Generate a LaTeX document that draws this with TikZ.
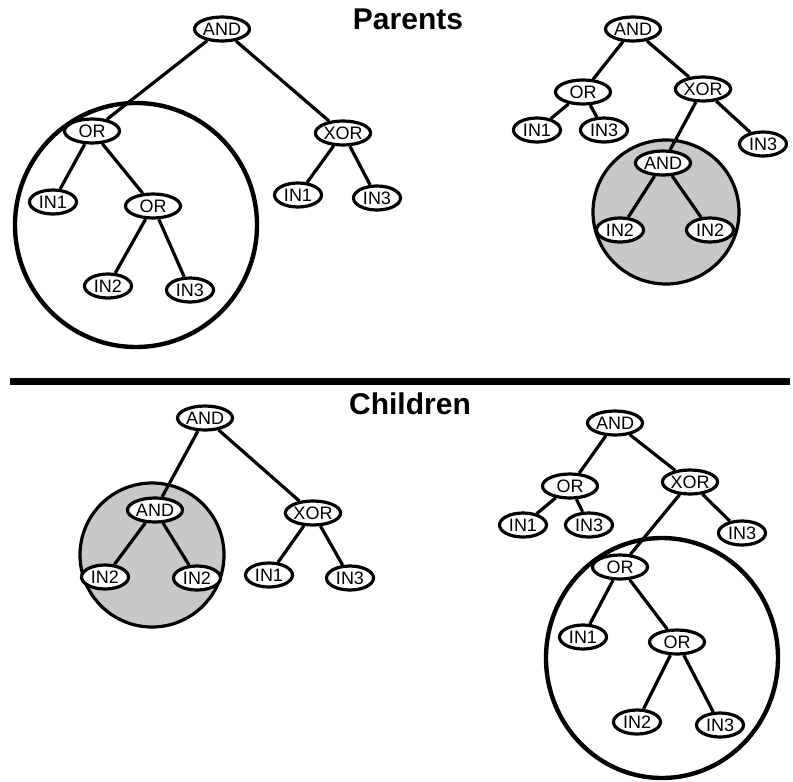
\documentclass[tikz,border=0pt]{standalone}
\usepackage{fontspec}
\setmainfont{Liberation Sans}
\usetikzlibrary{shapes.geometric}
\definecolor{gateline}{HTML}{000000}
\definecolor{subgray}{HTML}{C8C8C8}

\begin{document}
\begin{tikzpicture}[
    x=1pt, y=-1pt,
    gate/.style={ellipse, draw=gateline, fill=white, line width=3.2pt,
      inner sep=0pt, minimum width=55pt, minimum height=24pt,
      font=\fontsize{18}{18}\selectfont},
    leaf/.style={gate, minimum width=47pt},
    edge/.style={draw=gateline, line width=3.2pt},
    cut/.style={draw=gateline, line width=4.4pt},
    swap/.style={draw=gateline, fill=subgray, line width=3.2pt},
    title/.style={font=\fontsize{30}{30}\selectfont\bfseries},
  ]
  \useasboundingbox (0,0) rectangle (793,782);

  % headings and separator
  \node[title] (parents) at (408,19) {Parents};
  \node[title] (children) at (410,404) {Children};
  \fill[gateline] (10,378) rectangle (790,385);

  % selected subtrees
  \draw[cut] (136,225) ellipse [x radius=121, y radius=122];
  \draw[swap] (666,212) ellipse [x radius=73, y radius=72];
  \draw[swap] (152,555) ellipse [x radius=72, y radius=72];
  \draw[cut] (662,658) ellipse [x radius=116, y radius=120];

  % parent 1
  \node[gate] (p1and) at (222,29) {AND};
  \node[gate] (p1or)  at (92,131) {OR};
  \node[gate] (p1xor) at (343,133) {XOR};
  \node[leaf] (p1in1) at (53,202) {IN1};
  \node[gate] (p1orb) at (153,206) {OR};
  \node[leaf] (p1in2) at (108,286) {IN2};
  \node[leaf] (p1in3) at (190,290) {IN3};
  \node[leaf] (p1xa)  at (298,195) {IN1};
  \node[leaf] (p1xb)  at (377,198) {IN3};

  % parent 2
  \node[gate] (p2and) at (633,29) {AND};
  \node[gate] (p2or)  at (583,92) {OR};
  \node[gate] (p2xor) at (703,89) {XOR};
  \node[leaf] (p2in1) at (537,130) {IN1};
  \node[leaf] (p2in3) at (604,130) {IN3};
  \node[leaf] (p2xb)  at (763,144) {IN3};
  \node[gate] (p2sub) at (663,163) {AND};
  \node[leaf] (p2ina) at (620,230) {IN2};
  \node[leaf] (p2inb) at (710,230) {IN2};

  % child 1
  \node[gate] (c1and) at (205,418) {AND};
  \node[gate] (c1sub) at (155,510) {AND};
  \node[gate] (c1xor) at (313,513) {XOR};
  \node[leaf] (c1ina) at (105,577) {IN2};
  \node[leaf] (c1inb) at (197,578) {IN2};
  \node[leaf] (c1xa)  at (269,575) {IN1};
  \node[leaf] (c1xb)  at (350,578) {IN3};

  % child 2
  \node[gate] (c2and) at (615,423) {AND};
  \node[gate] (c2or)  at (570,486) {OR};
  \node[gate] (c2xor) at (690,482) {XOR};
  \node[leaf] (c2in1) at (523,525) {IN1};
  \node[leaf] (c2in3) at (589,525) {IN3};
  \node[leaf] (c2xb)  at (742,533) {IN3};
  \node[gate] (c2sub) at (620,567) {OR};
  \node[leaf] (c2ina) at (583,637) {IN1};
  \node[gate] (c2orb) at (677,642) {OR};
  \node[leaf] (c2in2) at (637,722) {IN2};
  \node[leaf] (c2inc) at (720,725) {IN3};

  % branches
  \foreach \a/\b in {p1and/p1or, p1and/p1xor, p1or/p1in1, p1or/p1orb,
      p1orb/p1in2, p1orb/p1in3, p1xor/p1xa, p1xor/p1xb,
      p2and/p2or, p2and/p2xor, p2or/p2in1, p2or/p2in3, p2xor/p2xb,
      p2xor/p2sub, p2sub/p2ina, p2sub/p2inb,
      c1and/c1sub, c1and/c1xor, c1sub/c1ina, c1sub/c1inb,
      c1xor/c1xa, c1xor/c1xb,
      c2and/c2or, c2and/c2xor, c2or/c2in1, c2or/c2in3, c2xor/c2xb,
      c2xor/c2sub, c2sub/c2ina, c2sub/c2orb, c2orb/c2in2, c2orb/c2inc} {
    \draw[edge] (\a) -- (\b);
  }
\end{tikzpicture}
\end{document}
